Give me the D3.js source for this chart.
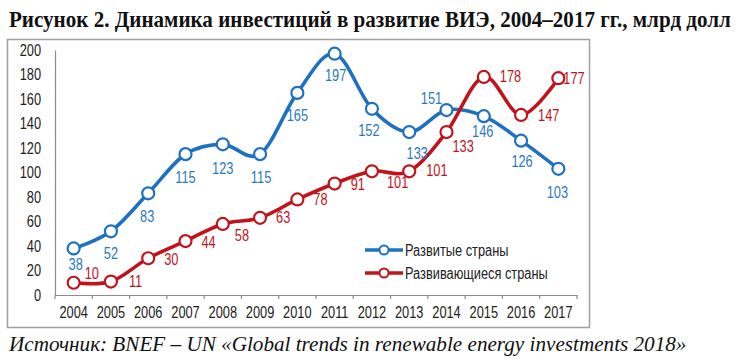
<!DOCTYPE html>
<html>
<head>
<meta charset="utf-8">
<script src="https://cdn.jsdelivr.net/npm/d3@7/dist/d3.min.js"></script>
<style>
  html, body { margin: 0; padding: 0; background: #fff; }
  svg { display: block; }
</style>
</head>
<body>
<svg id="chart" width="742" height="360"></svg>
<script>
const years = ["2004","2005","2006","2007","2008","2009","2010","2011","2012","2013","2014","2015","2016","2017"];
const developed = [38,52,83,115,123,115,165,197,152,133,151,146,126,103];
const developing = [10,11,30,44,58,63,78,91,101,101,133,178,147,177];
const yTicks = [0,20,40,60,80,100,120,140,160,180,200];
const seriesNames = ["Развитые страны", "Развивающиеся страны"];
const titleText = "Рисунок 2. Динамика инвестиций в развитие ВИЭ, 2004–2017 гг., млрд долл";
const sourceText = "Источник: BNEF – UN «Global trends in renewable energy investments 2018»";

// label offsets relative to each point (dx, dy to baseline)
const blueLabelOffsets = [[2,22],[0,28],[-1,29],[0,29],[0,30],[1,29],[0,28],[1,27],[-3,27],[8,27],[-15,-6],[-1,21],[1,26],[-1,29]];
const redLabelOffsets = [[11,-4],[18,5],[16,7],[16,7],[12,17],[16,5],[16,6],[16,6],[15,17],[17,5],[6,20],[16,5],[17,6],[5,6]];

const BLUE = "#1f70c0", BLUE_TXT = "#2b78c2";
const RED = "#c0141c", RED_TXT = "#c0141c";
const NUMFONT = "'Liberation Sans', Arial, sans-serif";
const FS = "16px";
const SQUEEZE = 0.8;

const svg = d3.select("#chart");

function condense(sel) {
  sel.each(function () {
    const w = this.getComputedTextLength();
    d3.select(this).attr("textLength", w * SQUEEZE).attr("lengthAdjust", "spacingAndGlyphs");
  });
}

function fitText(txt, x0, x1, yBase, styles) {
  const t = svg.append("text").attr("x", 0).attr("y", 0).text(txt);
  Object.entries(styles).forEach(([k, v]) => t.style(k, v));
  const w = t.node().getComputedTextLength();
  t.attr("transform", `translate(${x0},${yBase}) scale(${(x1 - x0) / w},1)`);
  return t;
}

// title
fitText(titleText, 9, 731, 27, {
  "font-family": "'Liberation Serif', 'Times New Roman', serif",
  "font-weight": "bold", "font-size": "24px", "fill": "#111"
});

// frame
svg.append("rect")
  .attr("x", 7.5).attr("y", 39.5).attr("width", 582).attr("height", 288)
  .attr("fill", "none").attr("stroke", "#a0a0a0").attr("stroke-width", 1.5);

// source
fitText(sourceText, 9, 687, 351, {
  "font-family": "'Liberation Serif', 'Times New Roman', serif",
  "font-style": "italic", "font-size": "20px", "fill": "#111"
});

const x = d3.scaleBand().domain(years).range([55, 577]);
const y = d3.scaleLinear().domain([0, 200]).range([295, 50]);
const cx = d => x(d) + x.bandwidth() / 2;

// y axis
const yAxis = svg.append("g").attr("transform", "translate(55,0)")
  .call(d3.axisLeft(y).tickValues(yTicks).tickSize(0).tickPadding(14));
yAxis.select(".domain").attr("stroke", "#8c8c8c").attr("stroke-width", 1.2);
yAxis.selectAll("text").style("font-family", NUMFONT).style("font-size", FS).style("fill", "#222").call(condense);

// x axis
const xAxis = svg.append("g").attr("transform", "translate(0,295)")
  .call(d3.axisBottom(x).tickSize(0).tickPadding(12));
xAxis.select(".domain").attr("stroke", "#8c8c8c").attr("stroke-width", 1.2);
xAxis.selectAll("text").style("font-family", NUMFONT).style("font-size", FS).style("fill", "#222").call(condense);
const bounds = years.map(d => x(d)).concat([x(years[years.length-1]) + x.bandwidth()]);
xAxis.selectAll("line.bound").data(bounds).enter().append("line")
  .attr("class", "bound")
  .attr("x1", d => d).attr("x2", d => d).attr("y1", 0).attr("y2", 4)
  .attr("stroke", "#8c8c8c").attr("stroke-width", 1.2);

const line = d3.line()
  .x((d, i) => cx(years[i]))
  .y(d => y(d))
  .curve(d3.curveCatmullRom.alpha(0));

function drawSeries(values, color) {
  const g = svg.append("g");
  g.append("path").datum(values)
    .attr("d", line).attr("fill", "none")
    .attr("stroke", color).attr("stroke-width", 3.6).attr("stroke-linejoin", "round");
  g.selectAll("circle").data(values).enter().append("circle")
    .attr("cx", (d, i) => cx(years[i])).attr("cy", d => y(d)).attr("r", 6)
    .attr("fill", "#fff").attr("stroke", color).attr("stroke-width", 2.2);
  return g;
}

drawSeries(developed, BLUE);
drawSeries(developing, RED);

// labels
svg.append("g").selectAll("text").data(developed).enter().append("text")
  .attr("x", (d, i) => cx(years[i]) + blueLabelOffsets[i][0])
  .attr("y", (d, i) => y(d) + blueLabelOffsets[i][1])
  .attr("text-anchor", "middle")
  .style("font-family", NUMFONT).style("font-size", FS).style("fill", BLUE_TXT)
  .text(d => d).call(condense);
svg.append("g").selectAll("text").data(developing).enter().append("text")
  .attr("x", (d, i) => cx(years[i]) + redLabelOffsets[i][0])
  .attr("y", (d, i) => y(d) + redLabelOffsets[i][1])
  .attr("text-anchor", "start")
  .style("font-family", NUMFONT).style("font-size", FS).style("fill", RED_TXT)
  .text(d => d).call(condense);

// legend
const legend = svg.append("g").attr("transform", "translate(365,250)");
[[seriesNames[0], BLUE], [seriesNames[1], RED]].forEach((s, i) => {
  const row = legend.append("g").attr("transform", `translate(0,${i * 23})`);
  row.append("line").attr("x1", 0).attr("x2", 38).attr("y1", 0).attr("y2", 0)
    .attr("stroke", s[1]).attr("stroke-width", 3.6);
  row.append("circle").attr("cx", 19).attr("cy", 0).attr("r", 4.5)
    .attr("fill", "#fff").attr("stroke", s[1]).attr("stroke-width", 2);
  row.append("text").attr("x", 40).attr("y", 6)
    .style("font-family", NUMFONT).style("font-size", FS).style("fill", "#222")
    .text(s[0]).call(condense);
});
</script>
</body>
</html>
